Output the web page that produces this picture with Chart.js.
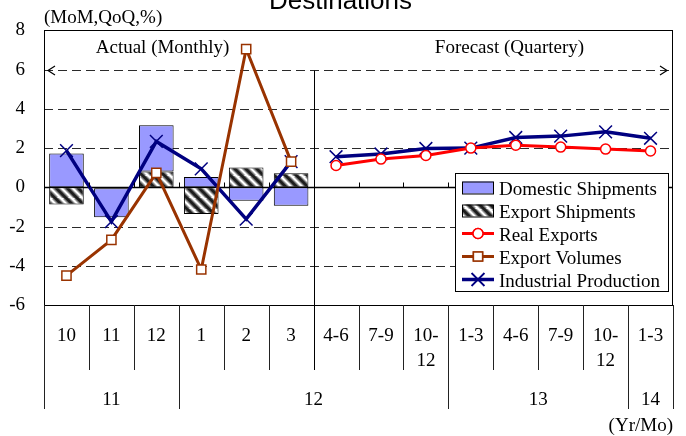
<!DOCTYPE html>
<html>
<head>
<meta charset="utf-8">
<script src="https://cdn.jsdelivr.net/npm/chart.js@4/dist/chart.umd.min.js"></script>
<style>
  html, body { margin: 0; padding: 0; background: #fff; }
  #wrap { width: 686px; height: 436px; }
</style>
</head>
<body>
<div id="wrap"><canvas id="c" width="686" height="436"></canvas></div>
<script>
// Periods on the horizontal axis: six actual months, then eight forecast quarters
const periods = ['10', '11', '12', '1', '2', '3', '4-6', '7-9', '10-12', '1-3', '4-6', '7-9', '10-12', '1-3'];
const periodLines = [['10'], ['11'], ['12'], ['1'], ['2'], ['3'], ['4-6'], ['7-9'], ['10-', '12'], ['1-3'], ['4-6'], ['7-9'], ['10-', '12'], ['1-3']];
const yearLabels = ['11', '12', '13', '14'];
const yearSpans = [3, 6, 4, 1];
const yTickValues = [8, 6, 4, 2, 0, -2, -4, -6];

// Actual monthly changes (MoM, %)
const domesticShipments = [1.73, -1.48, 2.35, 0.52, -0.69, -0.94];
const exportShipments = [-0.88, -0.05, 0.81, -1.36, 1.01, 0.72];
const exportVolumes = [-4.50, -2.68, 0.74, -4.19, 7.05, 1.31];
const ipActual = [1.87, -1.75, 2.34, 0.94, -1.62, 1.31];

// Forecast quarterly changes (QoQ, %)
const realExports = [1.11, 1.44, 1.62, 2.00, 2.15, 2.05, 1.95, 1.85];
const ipForecast = [1.56, 1.70, 1.98, 2.00, 2.54, 2.61, 2.83, 2.50];

const nMonths = domesticShipments.length;
const nQuarters = realExports.length;
const monthly = v => v.concat(new Array(nQuarters).fill(null));
const quarterly = v => new Array(nMonths).fill(null).concat(v);

const SERIF = "'Liberation Serif', 'Times New Roman', serif";
const SANS = "'Liberation Sans', Arial, sans-serif";
const NAVY = '#000080', RED = '#ff0000', BROWN = '#993300', BLUE = '#9999ff';

const canvas = document.getElementById('c');
const ctx0 = canvas.getContext('2d');

// diagonal black/white hatch used by the export shipments bars
function makeHatch() {
  const s = 11;
  const p = document.createElement('canvas');
  p.width = p.height = s;
  const g = p.getContext('2d');
  g.fillStyle = '#ffffff';
  g.fillRect(0, 0, s, s);
  const diag = () => {
    for (const k of [-s, 0, s]) {
      g.beginPath();
      g.moveTo(k - 1, -1);
      g.lineTo(k + s + 1, s + 1);
      g.stroke();
    }
  };
  g.strokeStyle = '#8a8a8a'; g.lineWidth = 5.5; diag();
  g.strokeStyle = '#1e1e1e'; g.lineWidth = 3; diag();
  return ctx0.createPattern(p, 'repeat');
}
const HATCH = makeHatch();

function line(ctx, x1, y1, x2, y2) {
  ctx.beginPath(); ctx.moveTo(x1, y1); ctx.lineTo(x2, y2); ctx.stroke();
}

// Dashed grid and zero line under the data
const gridPlugin = {
  id: 'gridPlugin',
  beforeDatasetsDraw(chart) {
    const { ctx, chartArea: a, scales: { y } } = chart;
    ctx.save();
    ctx.strokeStyle = '#2a2a2a';
    ctx.lineWidth = 1;
    ctx.setLineDash([9, 5]);
    y.ticks.forEach(t => {
      if (t.value === 0 || t.value === y.max || t.value === y.min) return;
      const py = Math.round(y.getPixelForValue(t.value)) + 0.5;
      line(ctx, a.left, py, a.right, py);
    });
    ctx.setLineDash([]);
    ctx.strokeStyle = '#000';
    ctx.lineWidth = 1.3;
    const y0 = Math.round(y.getPixelForValue(0)) + 0.5;
    line(ctx, a.left, y0, a.right, y0);
    ctx.restore();
  }
};

// Frame, period labels, annotations and legend
const decorPlugin = {
  id: 'decorPlugin',
  afterDraw(chart) {
    const { ctx, chartArea: a, scales: { x, y } } = chart;
    const half = (x.getPixelForValue(1) - x.getPixelForValue(0)) / 2;
    const edge = i => x.getPixelForValue(i) - half;
    ctx.save();

    // title and unit
    ctx.fillStyle = '#000';
    ctx.font = '26px ' + SANS;
    ctx.textAlign = 'center';
    ctx.textBaseline = 'alphabetic';
    ctx.fillText('Destinations', 340.5, 8.5);
    ctx.font = '19px ' + SERIF;
    ctx.textAlign = 'left';
    ctx.fillText('(MoM,QoQ,%)', 44, 22.5);

    // frame
    ctx.strokeStyle = '#000';
    ctx.lineWidth = 1;
    ctx.strokeRect(Math.round(a.left) + 0.5, Math.round(a.top) + 0.5,
                   Math.round(a.right - a.left) - 1, Math.round(a.bottom - a.top));

    // small ticks on the zero line
    const y0 = Math.round(y.getPixelForValue(0)) + 0.5;
    for (let i = 1; i < periods.length; i++) {
      const px = Math.round(edge(i)) + 0.5;
      line(ctx, px, y0 - 5, px, y0);
    }

    // actual / forecast divider and arrows
    const y6 = Math.round(y.getPixelForValue(6)) + 0.5;
    const split = Math.round(edge(nMonths)) + 0.5;
    const sepBottom = a.bottom + 65;
    const yearBottom = a.bottom + 104;
    line(ctx, split, y6, split, sepBottom);
    ctx.lineWidth = 1.2;
    ctx.beginPath();
    ctx.moveTo(a.left + 11, y6 - 4.5); ctx.lineTo(a.left + 4, y6); ctx.lineTo(a.left + 11, y6 + 4.5);
    ctx.moveTo(a.right - 13, y6 - 4.5); ctx.lineTo(a.right - 6, y6); ctx.lineTo(a.right - 13, y6 + 4.5);
    ctx.stroke();
    ctx.lineWidth = 1;

    ctx.font = '19px ' + SERIF;
    ctx.textAlign = 'center';
    ctx.fillText('Actual (Monthly)', 162.5, 52.5);
    ctx.fillText('Forecast (Quartery)', 509.5, 52.5);

    // period separators and labels
    ctx.strokeStyle = '#222';
    for (let i = 1; i < periods.length; i++) {
      if (i === nMonths) continue;
      const px = Math.round(edge(i)) + 0.5;
      line(ctx, px, a.bottom, px, sepBottom);
    }
    let acc = 0;
    const yearEdges = [0];
    yearSpans.forEach(s => { acc += s; yearEdges.push(acc); });
    yearEdges.forEach(i => {
      const px = Math.round(i === periods.length ? a.right : edge(i)) + 0.5;
      line(ctx, px, a.bottom, px, yearBottom);
    });
    ctx.fillStyle = '#000';
    periodLines.forEach((lines, i) => {
      const cx = x.getPixelForValue(i);
      lines.forEach((t, k) => ctx.fillText(t, cx, a.bottom + 35.5 + k * 25));
    });
    yearLabels.forEach((t, k) => {
      const l = edge(yearEdges[k]);
      const r = yearEdges[k + 1] === periods.length ? a.right : edge(yearEdges[k + 1]);
      ctx.fillText(t, (l + r) / 2, a.bottom + 100);
    });
    ctx.textAlign = 'right';
    ctx.fillText('(Yr/Mo)', a.right, 431);

    // legend
    const lx = 455.5, ly = 173.5, lw = 213, lh = 118;
    ctx.fillStyle = '#fff';
    ctx.fillRect(lx, ly, lw, lh);
    ctx.strokeStyle = '#000';
    ctx.lineWidth = 1;
    ctx.strokeRect(lx, ly, lw, lh);
    const entries = [
      { text: 'Domestic Shipments', kind: 'box', fill: BLUE },
      { text: 'Export Shipments', kind: 'box', fill: HATCH },
      { text: 'Real Exports', kind: 'line', color: RED, lw: 3, style: 'circle', r: 5 },
      { text: 'Export Volumes', kind: 'line', color: BROWN, lw: 3, style: 'rect', r: 6.5 },
      { text: 'Industrial Production', kind: 'line', color: NAVY, lw: 3.5, style: 'crossRot', r: 9 }
    ];
    ctx.textAlign = 'left';
    entries.forEach((e, k) => {
      const base = 194.5 + k * 23;
      const cy = base - 7;
      if (e.kind === 'box') {
        ctx.fillStyle = e.fill;
        ctx.fillRect(462.5, cy - 6, 31, 12);
        ctx.strokeStyle = '#000';
        ctx.lineWidth = 1;
        ctx.strokeRect(462.5, cy - 6 + 0.5, 31, 12);
      } else {
        ctx.strokeStyle = e.color;
        ctx.lineWidth = e.lw;
        line(ctx, 462, cy, 494, cy);
        ctx.lineWidth = 1.5;
        ctx.fillStyle = '#fff';
        Chart.helpers.drawPoint(ctx, { pointStyle: e.style, radius: e.r, rotation: 0, borderWidth: 1.5 }, 478, cy);
        if (e.style !== 'crossRot') ctx.fill();
        ctx.stroke();
      }
      ctx.fillStyle = '#000';
      ctx.fillText(e.text, 499, base);
    });
    ctx.restore();
  }
};

const lineBase = { type: 'line', spanGaps: false, pointBorderWidth: 1.5, pointBackgroundColor: '#fff', tension: 0 };

new Chart(canvas, {
  type: 'bar',
  data: {
    labels: periods,
    datasets: [
      { label: 'Export Shipments', data: monthly(exportShipments), backgroundColor: HATCH,
        borderColor: '#000', borderWidth: 1, borderSkipped: false, stack: 'bars', order: 10,
        barPercentage: 0.77, categoryPercentage: 1 },
      { label: 'Domestic Shipments', data: monthly(domesticShipments), backgroundColor: BLUE,
        borderColor: '#000', borderWidth: 1, borderSkipped: false, stack: 'bars', order: 10,
        barPercentage: 0.77, categoryPercentage: 1 },
      { ...lineBase, label: 'Industrial Production', data: monthly(ipActual), borderColor: NAVY,
        pointBorderColor: NAVY, borderWidth: 3.5, pointStyle: 'crossRot', pointRadius: 9, stack: 'ip1', order: 5 },
      { ...lineBase, label: 'Industrial Production (forecast)', data: quarterly(ipForecast), borderColor: NAVY,
        pointBorderColor: NAVY, borderWidth: 3.5, pointStyle: 'crossRot', pointRadius: 9, stack: 'ip2', order: 5 },
      { ...lineBase, label: 'Export Volumes', data: monthly(exportVolumes), borderColor: BROWN,
        pointBorderColor: BROWN, borderWidth: 3, pointStyle: 'rect', pointRadius: 6.5, stack: 'ev', order: 2 },
      { ...lineBase, label: 'Real Exports', data: quarterly(realExports), borderColor: RED,
        pointBorderColor: RED, borderWidth: 3, pointStyle: 'circle', pointRadius: 5, stack: 're', order: 1 }
    ]
  },
  options: {
    responsive: false,
    devicePixelRatio: 1,
    animation: false,
    layout: { padding: { left: 0, top: 26, right: 13, bottom: 131 } },
    plugins: { legend: { display: false }, tooltip: { enabled: false }, title: { display: false } },
    scales: {
      x: { display: false, stacked: true, offset: true },
      y: {
        stacked: true,
        min: -6, max: 8,
        afterFit(scale) { scale.width = 44; },
        afterBuildTicks(scale) { scale.ticks = yTickValues.map(v => ({ value: v })); },
        grid: { display: false, drawTicks: false },
        border: { display: false },
        ticks: { padding: 19, color: '#000', font: { family: SERIF, size: 19 } }
      }
    }
  },
  plugins: [gridPlugin, decorPlugin]
});
</script>
</body>
</html>
